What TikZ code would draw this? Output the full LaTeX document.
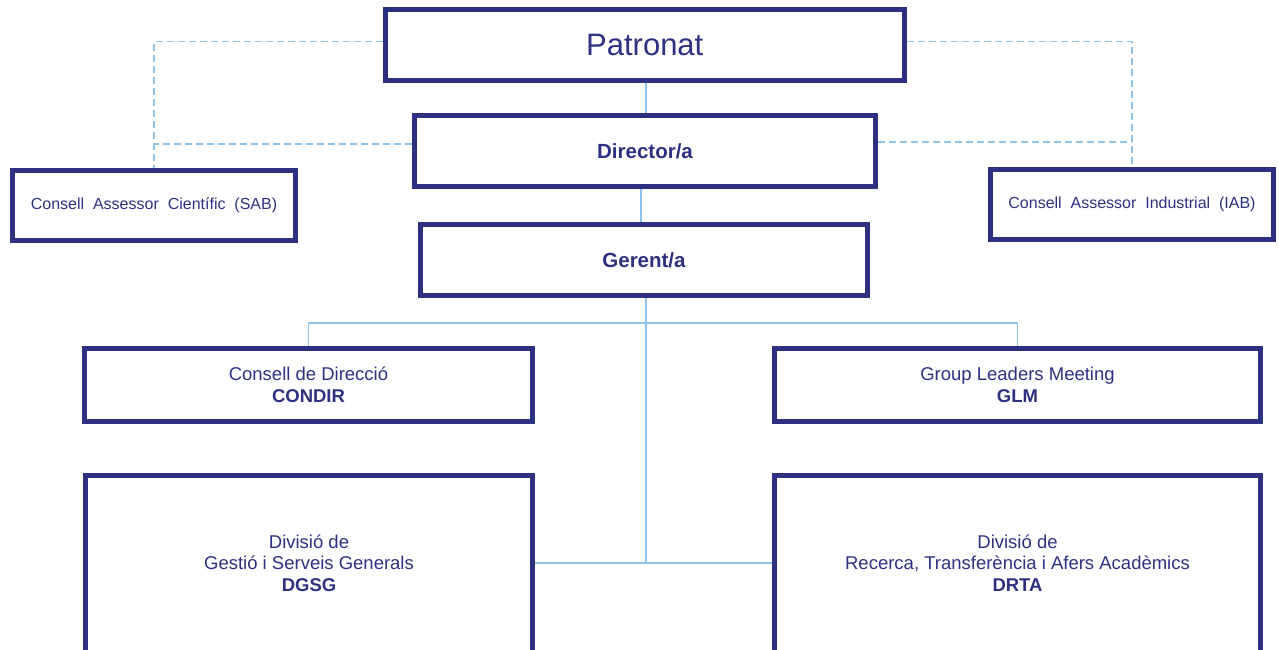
\documentclass[tikz,border=0pt]{standalone}
\usepackage{fontspec}
\setmainfont{Liberation Sans}
\definecolor{navy}{HTML}{2E3182}
\definecolor{lblue}{HTML}{8EC3EE}
\begin{document}
\begin{tikzpicture}[x=1pt,y=-1pt,
  box/.style={draw=navy, line width=5pt, fill=white, text=navy, align=center, inner sep=0pt},
  txt/.style={text=navy, align=center, inner sep=0pt},
  conn/.style={draw=lblue, line width=1.4pt},
  dsh/.style={draw=lblue, line width=1.4pt, dash pattern=on 7pt off 4pt},
  fbig/.style={font=\fontsize{31}{37}\selectfont},
  fhead/.style={font=\fontsize{20.5}{24}\selectfont\bfseries},
  fmid/.style={font=\fontsize{18.5}{21.5}\selectfont},
  fsmall/.style={font=\fontsize{16}{19}\selectfont}]
\useasboundingbox (0,0) rectangle (1279,650);
\clip (0,0) rectangle (1279,650);
\fill[white] (0,0) rectangle (1279,650);
\coordinate (bus) at (646,323);
\coordinate (gs) at (646,296);
\node[box, fbig, minimum width=519.5pt, minimum height=70.5pt] (Patronat) at (644.75,45.25) {\raisebox{-2pt}{Patronat}};
\node[box, fhead, minimum width=461pt, minimum height=71pt] (Director) at (645,151) {Director/a};
\node[box, fhead, minimum width=447pt, minimum height=71pt] (Gerent) at (644,260) {Gerent/a};
\node[box, fsmall, minimum width=283pt, minimum height=69.5pt] (SAB) at (154,205.25) {Consell\ \ Assessor\ \ Científic\ \ (SAB)};
\node[box, fsmall, minimum width=283pt, minimum height=69.5pt] (IAB) at (1132,204.25) {Consell\ \ Assessor\ \ Industrial\ \ (IAB)};
\node[box, fmid, minimum width=448pt, minimum height=73pt] (CONDIR) at (308.5,385) {Consell de Direcció\\\textbf{CONDIR}};
\node[box, fmid, minimum width=486pt, minimum height=73pt] (GLM) at (1017.5,385) {Group Leaders Meeting\\\textbf{GLM}};
\node[box, minimum width=447pt, minimum height=195pt] (DGSG) at (309,573) {};
\node[txt, fmid] (DGSGt) at (309,563) {Divisió de\\Gestió i Serveis Generals\\\textbf{DGSG}};
\node[box, minimum width=486pt, minimum height=195pt] (DRTA) at (1017.5,573) {};
\node[txt, fmid] (DRTAt) at (1017.5,563) {Divisió de\\Recerca, Transferència i Afers Acadèmics\\\textbf{DRTA}};
% solid connectors
\draw[conn] (Patronat.south -| gs) -- (Director.north -| gs);
\draw[conn] ([xshift=-4pt]Director.south) -- ([xshift=-3pt]Gerent.north);
\draw[conn] (Gerent.south -| gs) -- (gs |- DGSGt.center);
\draw[conn] (CONDIR.north) |- (bus) -| (GLM.north);
\draw[conn] (DGSG.east |- DGSGt.center) -- (DRTA.west |- DRTAt.center);
% dashed connectors
\coordinate (pl) at ([yshift=4pt]Patronat.west);
\coordinate (pr) at ([yshift=4pt]Patronat.east);
\coordinate (dl) at ([yshift=7pt]Director.west);
\coordinate (dr) at ([yshift=9pt]Director.east);
\draw[dsh] (pl) -| (SAB.north);
\draw[dsh] (dl) -- (dl -| SAB.north);
\draw[dsh] (pr) -| (IAB.north);
\draw[dsh] (dr) -- (dr -| IAB.north);
\end{tikzpicture}
\end{document}
